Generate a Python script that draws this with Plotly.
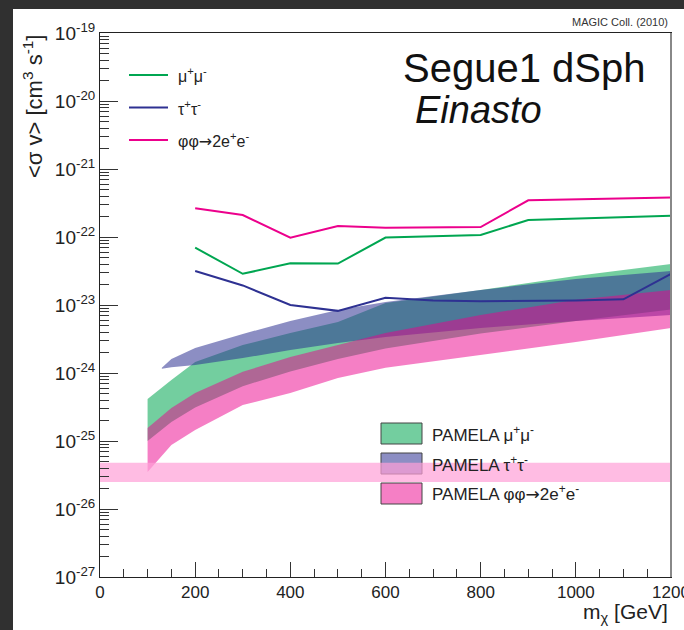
import plotly.graph_objects as go

# ---------------- data ----------------
mass_lines = [200, 300, 400, 500, 600, 700, 800, 900, 1000, 1100, 1200]
limit_mumu = [6.97e-23, 2.88e-23, 4.1e-23, 4.07e-23, 9.8e-23, 1.02e-22, 1.07e-22, 1.78e-22, 1.87e-22, 1.97e-22, 2.06e-22]
limit_tautau = [3.16e-23, 1.94e-23, 1.0e-23, 8.2e-24, 1.28e-23, 1.16e-23, 1.14e-23, 1.15e-23, 1.16e-23, 1.21e-23, 2.86e-23]
limit_phiphi = [2.64e-22, 2.1e-22, 9.8e-23, 1.45e-22, 1.37e-22, 1.38e-22, 1.40e-22, 3.47e-22, 3.55e-22, 3.65e-22, 3.8e-22]

mass_mu_band = [100, 150, 200, 300, 400, 500, 600, 800, 1000, 1200]
mu_band_high = [4.15e-25, 7.9e-25, 1.45e-24, 2.58e-24, 3.87e-24, 5.6e-24, 1.07e-23, 1.66e-23, 2.67e-23, 4.0e-23]
mu_band_low = [1.0e-25, 1.9e-25, 3.1e-25, 6.4e-25, 1.05e-24, 1.6e-24, 2.3e-24, 3.8e-24, 5.8e-24, 8.6e-24]

mass_tau_band = [130, 150, 200, 300, 400, 500, 600, 800, 1000, 1200]
tau_band_high = [1.19e-24, 1.61e-24, 2.33e-24, 3.75e-24, 5.82e-24, 8.43e-24, 1.11e-23, 1.66e-23, 2.41e-23, 3.16e-23]
tau_band_low = [1.15e-24, 1.22e-24, 1.31e-24, 1.66e-24, 2.18e-24, 2.76e-24, 3.38e-24, 4.59e-24, 5.82e-24, 7.13e-24]

mass_ee_band = [100, 150, 200, 300, 400, 500, 600, 800, 1000, 1200]
ee_band_high = [1.55e-25, 3.05e-25, 5.08e-25, 1.04e-24, 1.72e-24, 2.58e-24, 3.87e-24, 7.13e-24, 1.19e-23, 1.66e-23]
ee_band_low = [3.5e-26, 8.7e-26, 1.45e-25, 3.38e-25, 5.08e-25, 8.43e-25, 1.19e-24, 1.84e-24, 2.86e-24, 4.59e-24]

thermal_mass = [0, 1200]
thermal_high = [4.8e-26, 4.8e-26]
thermal_low = [2.5e-26, 2.5e-26]

x_ticks = [0, 200, 400, 600, 800, 1000, 1200]
y_exps = [-27, -26, -25, -24, -23, -22, -21, -20, -19]

ARROW = '<span style="font-family:DejaVu Sans">→</span>'
line_labels = ["μ<sup>+</sup>μ<sup>-</sup>", "τ<sup>+</sup>τ<sup>-</sup>", "φφ" + ARROW + "2e<sup>+</sup>e<sup>-</sup>"]
band_labels = ["PAMELA μ<sup>+</sup>μ<sup>-</sup>", "PAMELA τ<sup>+</sup>τ<sup>-</sup>",
               "PAMELA φφ" + ARROW + "2e<sup>+</sup>e<sup>-</sup>"]

# ---------------- style ----------------
W, H = 684, 630
L, R, T, B = 100, 13, 33, 53
PW, PH = W - L - R, H - T - B
FONT = "Liberation Sans, Arial, Helvetica, sans-serif"
TXT = "#222222"

GREEN = "rgb(0,166,81)"
BLUE = "rgb(46,49,146)"
PINK = "rgb(236,0,140)"
GREEN_F = "rgba(0,166,81,0.55)"
BLUE_F = "rgba(46,49,146,0.55)"
PINK_F = "rgba(236,0,140,0.5)"
THERMAL_F = "rgba(255,160,215,0.7)"


def px(xp):
    return (xp - L) / PW


def py(yp):
    return (H - B - yp) / PH


fig = go.Figure()


def band(xs, hi, lo, color):
    fig.add_trace(go.Scatter(
        x=list(xs) + list(xs)[::-1],
        y=list(hi) + list(lo)[::-1],
        fill="toself", fillcolor=color, mode="lines",
        line=dict(width=0), hoverinfo="skip", showlegend=False))


band(mass_mu_band, mu_band_high, mu_band_low, GREEN_F)
band(mass_tau_band, tau_band_high, tau_band_low, BLUE_F)
band(mass_ee_band, ee_band_high, ee_band_low, PINK_F)
band(thermal_mass, thermal_high, thermal_low, THERMAL_F)

for ys, c in [(limit_mumu, GREEN), (limit_tautau, BLUE), (limit_phiphi, PINK)]:
    fig.add_trace(go.Scatter(x=mass_lines, y=ys, mode="lines",
                             line=dict(color=c, width=2), showlegend=False))

shapes = []
# white panel over dark slide background
shapes.append(dict(type="rect", xref="paper", yref="paper",
                   x0=px(13), x1=px(W + 5), y0=py(H + 5), y1=py(9),
                   fillcolor="white", line=dict(width=0), layer="below"))
annotations = []

# top-left line legend
for i, (lab, c) in enumerate(zip(line_labels, [GREEN, BLUE, PINK])):
    yy = [75, 107.5, 140][i]
    shapes.append(dict(type="line", xref="paper", yref="paper",
                       x0=px(129), x1=px(168), y0=py(yy), y1=py(yy),
                       line=dict(color=c, width=2)))
    annotations.append(dict(x=px(176), y=py(yy), xref="paper", yref="paper",
                            text=lab, showarrow=False, xanchor="left", yanchor="middle",
                            font=dict(size=16, color=TXT, family=FONT)))

# band legend
for i, (lab, c) in enumerate(zip(band_labels, [GREEN_F, BLUE_F, PINK_F])):
    y0, y1 = [(423, 444), (453, 474), (483, 504)][i]
    shapes.append(dict(type="rect", xref="paper", yref="paper",
                       x0=px(381), x1=px(422), y0=py(y1), y1=py(y0),
                       fillcolor=c, line=dict(color="#444444", width=1), layer="below"))
    annotations.append(dict(x=px(430), y=py((y0 + y1) / 2), xref="paper", yref="paper",
                            text=lab, showarrow=False, xanchor="left", yanchor="middle",
                            font=dict(size=17, color=TXT, family=FONT)))

# right frame (gray)
shapes.append(dict(type="line", xref="paper", yref="paper",
                   x0=1, x1=1, y0=0, y1=1, line=dict(color="#888888", width=2)))

annotations += [
    dict(x=px(670), y=py(22), text="MAGIC Coll. (2010)", xanchor="right", yanchor="middle",
         font=dict(size=11, color="#333333", family=FONT)),
    dict(x=px(401), y=py(68), text="Segue1 dSph", xanchor="left", yanchor="middle",
         font=dict(size=40, color="#111111", family=FONT)),
    dict(x=px(413), y=py(110), text="<i>Einasto</i>", xanchor="left", yanchor="middle",
         font=dict(size=38, color="#111111", family=FONT)),
    dict(x=px(33), y=py(107), text="<σ v> [cm<sup>3</sup> s<sup>-1</sup>]", textangle=-90,
         xanchor="center", yanchor="middle",
         font=dict(size=22, color=TXT, family=FONT)),
    dict(x=px(670), y=py(613), text="m<sub>χ</sub> [GeV]", xanchor="right", yanchor="middle",
         font=dict(size=21, color=TXT, family=FONT)),
]
for a in annotations:
    a.setdefault("xref", "paper")
    a.setdefault("yref", "paper")
    a.setdefault("showarrow", False)

minor_y = [k * 10.0 ** e for e in y_exps[:-1] for k in range(2, 10)]

fig.update_layout(
    width=W, height=H,
    margin=dict(l=L, r=R, t=T, b=B, pad=0, autoexpand=False),
    paper_bgcolor="rgb(48,48,48)",
    plot_bgcolor="rgba(0,0,0,0)",
    showlegend=False,
    shapes=shapes,
    annotations=annotations,
    font=dict(family=FONT, color=TXT),
    xaxis=dict(range=[0, 1200], showgrid=False, zeroline=False, automargin=False,
               showline=True, linecolor="#222222", linewidth=1, mirror=True,
               ticks="inside", ticklen=15, tickcolor="#333333", tickwidth=1,
               tickvals=x_ticks, ticktext=[str(v) for v in x_ticks],
               ticklabeloverflow="allow",
               tickfont=dict(size=17, color=TXT, family=FONT),
               minor=dict(ticks="inside", ticklen=8, dtick=50, tick0=0,
                          tickcolor="#333333", showgrid=False)),
    yaxis=dict(type="log", range=[-27, -19], showgrid=False, zeroline=False, automargin=False,
               showline=True, linecolor="#222222", linewidth=1, mirror=True,
               ticks="inside", ticklen=18, tickcolor="#333333", tickwidth=1,
               tickvals=[10.0 ** e for e in y_exps],
               ticktext=["10<sup>%d</sup>" % e for e in y_exps],
               tickfont=dict(size=19, color=TXT, family=FONT),
               minor=dict(ticks="inside", ticklen=9, tickvals=minor_y,
                          tickcolor="#333333", showgrid=False)),
)

fig.write_html("out.html")
